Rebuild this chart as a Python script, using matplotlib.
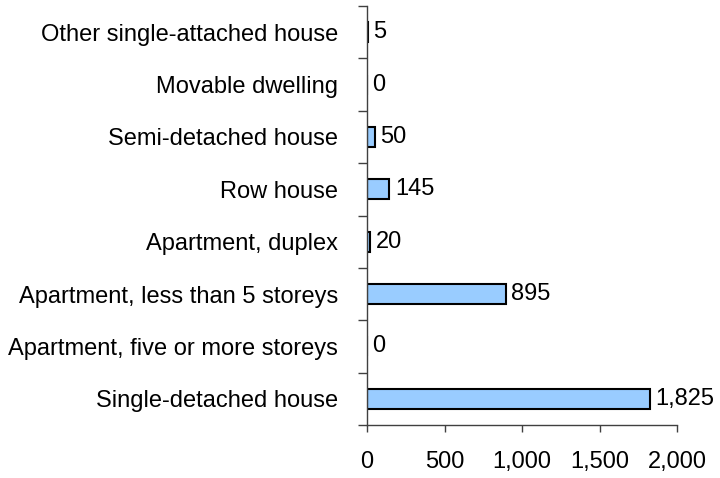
import matplotlib
matplotlib.use("Agg")
import matplotlib.pyplot as plt
import numpy as np

# dwelling types, bottom to top
categories = [
    "Single-detached house",
    "Apartment, five or more storeys",
    "Apartment, less than 5 storeys",
    "Apartment, duplex",
    "Row house",
    "Semi-detached house",
    "Movable dwelling",
    "Other single-attached house",
]
values = [1825, 0, 895, 20, 145, 50, 0, 5]
x_ticks = [0, 500, 1000, 1500, 2000]

plt.rcParams["font.family"] = ["Liberation Sans", "DejaVu Sans"]
FS = 17

fig = plt.figure(figsize=(7.2, 4.78), dpi=100)
ax = fig.add_axes([367 / 720, 1 - 425 / 478, 310 / 720, 419 / 478])

y = np.arange(len(categories))
ax.barh(y, values, height=0.38, color="#99CCFF", edgecolor="black", linewidth=1.5)

for yi, v in zip(y, values):
    ax.annotate(f"{v:,}", (v, yi), xytext=(4, 0), textcoords="offset points",
                va="center", ha="left", fontsize=FS)

ax.set_xlim(0, 2000)
ax.set_ylim(-0.5, len(categories) - 0.5)
ax.set_xticks(x_ticks)
ax.set_xticklabels([f"{t:,}" for t in x_ticks], fontsize=FS)
ax.set_yticks(y)
ax.set_yticklabels(categories, fontsize=FS)
ax.set_yticks(np.arange(-0.5, len(categories), 1.0), minor=True)

ax.tick_params(axis="y", which="major", length=0, pad=21)
ax.tick_params(axis="y", which="minor", length=6.5, width=1, color="#404040")
ax.tick_params(axis="x", length=5, width=1, color="#404040", pad=14)

for s in ("top", "right"):
    ax.spines[s].set_visible(False)
for s in ("left", "bottom"):
    ax.spines[s].set_color("#404040")
    ax.spines[s].set_linewidth(1)

fig.savefig("out.png", dpi=100)
